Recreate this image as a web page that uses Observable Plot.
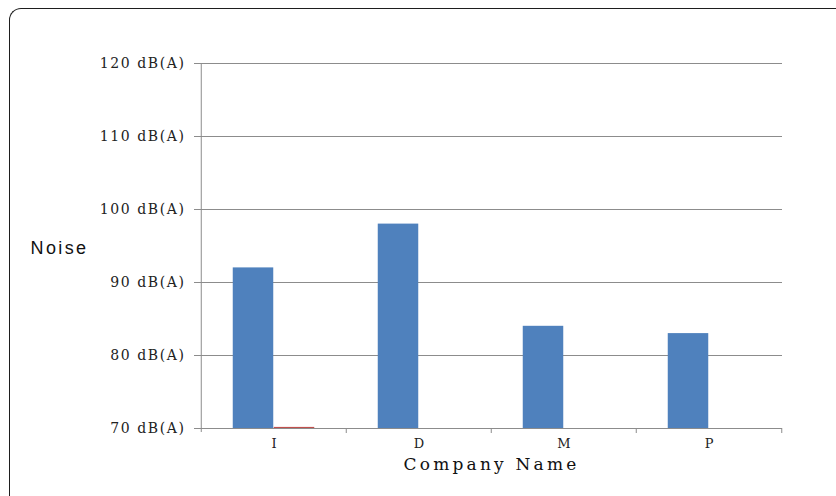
<!DOCTYPE html>
<html>
<head>
<meta charset="utf-8">
<script src="https://cdn.jsdelivr.net/npm/d3@7"></script>
<script src="https://cdn.jsdelivr.net/npm/@observablehq/plot@0.6"></script>
<style>
  html, body { margin: 0; padding: 0; background: #fff; }
  #wrap { position: relative; width: 836px; height: 496px; overflow: hidden; background: #fff; }
  #frame {
    position: absolute; left: 9px; top: 8px; width: 840px; height: 600px;
    border-top: 1.5px solid #1e1e1e; border-left: 1.5px solid #1e1e1e;
    border-top-left-radius: 12px; box-sizing: border-box; pointer-events: none;
  }
  #chart svg { display: block; }
  g[aria-label="y-axis tick label"] text { letter-spacing: 1.6px; }
</style>
</head>
<body>
<div id="wrap">
  <div id="chart"></div>
  <div id="frame"></div>
</div>
<script>
// Noise level measured at each company
const companies = ["I", "D", "M", "P"];
const noiseLevel = [92, 98, 84, 83];
const secondSeries = [70.15, 70, 70, 70];
const yTicks = [70, 80, 90, 100, 110, 120];
const unit = "dB(A)";
const xLabel = "Company Name";
const yLabel = "Noise";

// Layout
const W = 836, H = 496;
const mL = 200, mR = 54, mT = 63, mB = 68;
const band = (W - mL - mR) / companies.length;
const barW = 41;
const gap = (band - 2 * barW) / 2;
const grey = "#8c8c8c";
const base = yTicks[0];

const rows = companies.map((c, i) => ({company: c, noise: noiseLevel[i], other: secondSeries[i]}));

const chart = Plot.plot({
  width: W,
  height: H,
  marginLeft: mL,
  marginRight: mR,
  marginTop: mT,
  marginBottom: mB,
  style: {background: "#fff", overflow: "visible", fontFamily: "DejaVu Serif"},
  x: {type: "band", domain: companies, padding: 0},
  y: {domain: [yTicks[0], yTicks[yTicks.length - 1]]},
  marks: [
    Plot.gridY(yTicks, {stroke: grey, strokeOpacity: 1}),
    Plot.barY(rows, {x: "company", y1: base, y2: "noise", fill: "#4f81bd",
      insetLeft: gap, insetRight: gap + barW}),
    Plot.barY(rows, {x: "company", y1: base, y2: "other", fill: "#c0504d",
      insetLeft: gap + barW, insetRight: gap}),
    // vertical axis line
    Plot.ruleX([companies[0]], {x: d => d, dx: -band / 2, stroke: grey, insetBottom: -4}),
    // category boundary ticks below the baseline
    Plot.ruleX(companies.slice(1), {x: d => d, dx: -band / 2, y1: base, y2: base, insetBottom: -5, stroke: grey}),
    Plot.ruleX([companies[companies.length - 1]], {x: d => d, dx: band / 2, y1: base, y2: base, insetBottom: -5, stroke: grey}),
    Plot.axisY({ticks: yTicks, tickFormat: d => `${d} ${unit}`, tickSize: 6, tickPadding: 9,
      stroke: grey, fill: "#222", fontSize: 14, fontFamily: "DejaVu Serif"}),
    Plot.axisX({tickSize: 0, tickPadding: 10, fill: "#222", fontSize: 13, fontFamily: "DejaVu Serif", label: null}),
    Plot.text([xLabel], {frameAnchor: "bottom", lineAnchor: "bottom", dy: 41, fontSize: 17,
      fontFamily: "DejaVu Serif", fill: "#111"}),
    Plot.text([yLabel], {frameAnchor: "left", textAnchor: "start", dx: -170, dy: 2, fontSize: 18,
      fontFamily: "Liberation Sans", fill: "#111"})
  ]
});

// widen the spacing of the two axis titles
d3.select(chart).selectAll("text")
  .filter(function () { return this.textContent === xLabel; })
  .style("letter-spacing", "3.2px");
d3.select(chart).selectAll("text")
  .filter(function () { return this.textContent === yLabel; })
  .style("letter-spacing", "2.4px");

document.getElementById("chart").appendChild(chart);
</script>
</body>
</html>
